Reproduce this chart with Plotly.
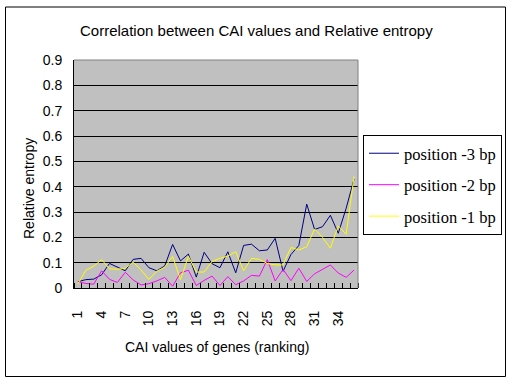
import plotly.graph_objects as go

ranks = list(range(1, 37))
pos_m3 = [0.025, 0.033, 0.035, 0.052, 0.097, 0.082, 0.068, 0.113, 0.117, 0.080, 0.068, 0.087,
          0.172, 0.107, 0.134, 0.043, 0.141, 0.096, 0.080, 0.143, 0.060, 0.168, 0.173, 0.147,
          0.150, 0.196, 0.066, 0.132, 0.168, 0.331, 0.231, 0.242, 0.287, 0.216, 0.315, 0.430]
pos_m2 = [0.025, 0.018, 0.015, 0.068, 0.034, 0.022, 0.062, 0.032, 0.012, 0.017, 0.028, 0.042,
          0.007, 0.060, 0.070, 0.010, 0.030, 0.047, 0.010, 0.045, 0.013, 0.028, 0.050, 0.047,
          0.112, 0.028, 0.073, 0.029, 0.078, 0.026, 0.056, 0.073, 0.091, 0.059, 0.042, 0.071]
pos_m1 = [0.016, 0.070, 0.086, 0.112, 0.076, 0.074, 0.078, 0.102, 0.071, 0.034, 0.066, 0.082,
          0.125, 0.033, 0.125, 0.063, 0.063, 0.105, 0.117, 0.126, 0.143, 0.068, 0.117, 0.113,
          0.097, 0.091, 0.091, 0.160, 0.150, 0.163, 0.233, 0.200, 0.157, 0.245, 0.212, 0.440]
series_names = ["position -3 bp", "position -2 bp", "position -1 bp"]
series_colors = ["#000080", "#FF00FF", "#FFFF00"]
x_tick_vals = list(range(1, 37, 3))
x_tick_text = [str(v) for v in x_tick_vals]
y_tick_vals = [0, 0.1, 0.2, 0.3, 0.4, 0.5, 0.6, 0.7, 0.8, 0.9]
y_tick_text = ["0", "0.1", "0.2", "0.3", "0.4", "0.5", "0.6", "0.7", "0.8", "0.9"]

W, H = 512, 384
L, R, T, B = 74, 154, 60, 96
pw, ph = W - L - R, H - T - B

def px(xp):
    return (xp - L) / pw

def py(yp):
    return (H - B - yp) / ph

fig = go.Figure()
for name, vals, col in zip(series_names, [pos_m3, pos_m2, pos_m1], series_colors):
    fig.add_trace(go.Scatter(x=ranks, y=vals, mode="lines", name=name,
                             legendgroup=name,
                             line=dict(color=col, width=1)))

sans = "Liberation Sans, Arial, sans-serif"
fig.update_layout(
    width=W, height=H,
    margin=dict(l=L, r=R, t=T, b=B),
    paper_bgcolor="white",
    plot_bgcolor="#C0C0C0",
    font=dict(family=sans, size=14, color="black"),
    showlegend=True,
    legend=dict(xref="container", yref="container",
                x=363 / W, y=1 - 135 / H, xanchor="left", yanchor="top",
                bordercolor="black", borderwidth=1, bgcolor="white",
                font=dict(family="Liberation Serif, Times New Roman, serif", size=16.5),
                tracegroupgap=7, itemwidth=30),
    xaxis=dict(range=[0.5, 36.5], tickvals=x_tick_vals, ticktext=x_tick_text,
               tickangle=-90, ticks="", showgrid=False, zeroline=False,
               showline=True, linecolor="black", linewidth=1,
               ticklabelstandoff=16, automargin=False,
               minor=dict(ticks="inside", tick0=0.5, dtick=1, ticklen=5,
                          tickcolor="black", showgrid=False),
               tickfont=dict(size=14)),
    yaxis=dict(range=[0, 0.9], tickvals=y_tick_vals, ticktext=y_tick_text,
               showgrid=True, gridcolor="black", gridwidth=1, zeroline=False,
               showline=True, linecolor="black", linewidth=1, ticks="",
               ticklabelstandoff=8, automargin=False, tickfont=dict(size=14)),
    annotations=[
        dict(text="Correlation between CAI values and Relative entropy",
             xref="paper", yref="paper", x=px(256), y=py(31), showarrow=False,
             xanchor="center", yanchor="middle", font=dict(size=15)),
        dict(text="Relative entropy", xref="paper", yref="paper",
             x=px(29), y=py(189), textangle=-90, showarrow=False,
             xanchor="center", yanchor="middle", font=dict(size=14)),
        dict(text="CAI values of genes (ranking)", xref="paper", yref="paper",
             x=px(217), y=py(347), showarrow=False,
             xanchor="center", yanchor="middle", font=dict(size=14)),
    ],
    shapes=[
        dict(type="line", xref="paper", yref="paper", x0=0, x1=1, y0=1, y1=1,
             line=dict(color="#808080", width=1)),
        dict(type="line", xref="paper", yref="paper", x0=1, x1=1, y0=0, y1=1,
             line=dict(color="#808080", width=1)),
        dict(type="rect", xref="paper", yref="paper",
             x0=px(5.5), x1=px(505.5), y0=py(376.5), y1=py(7),
             line=dict(color="black", width=1), fillcolor="rgba(0,0,0,0)"),
    ],
)

fig.write_html("out.html", config={"displayModeBar": False},
               post_script="document.body.style.margin='0';document.body.style.overflow='hidden';")
